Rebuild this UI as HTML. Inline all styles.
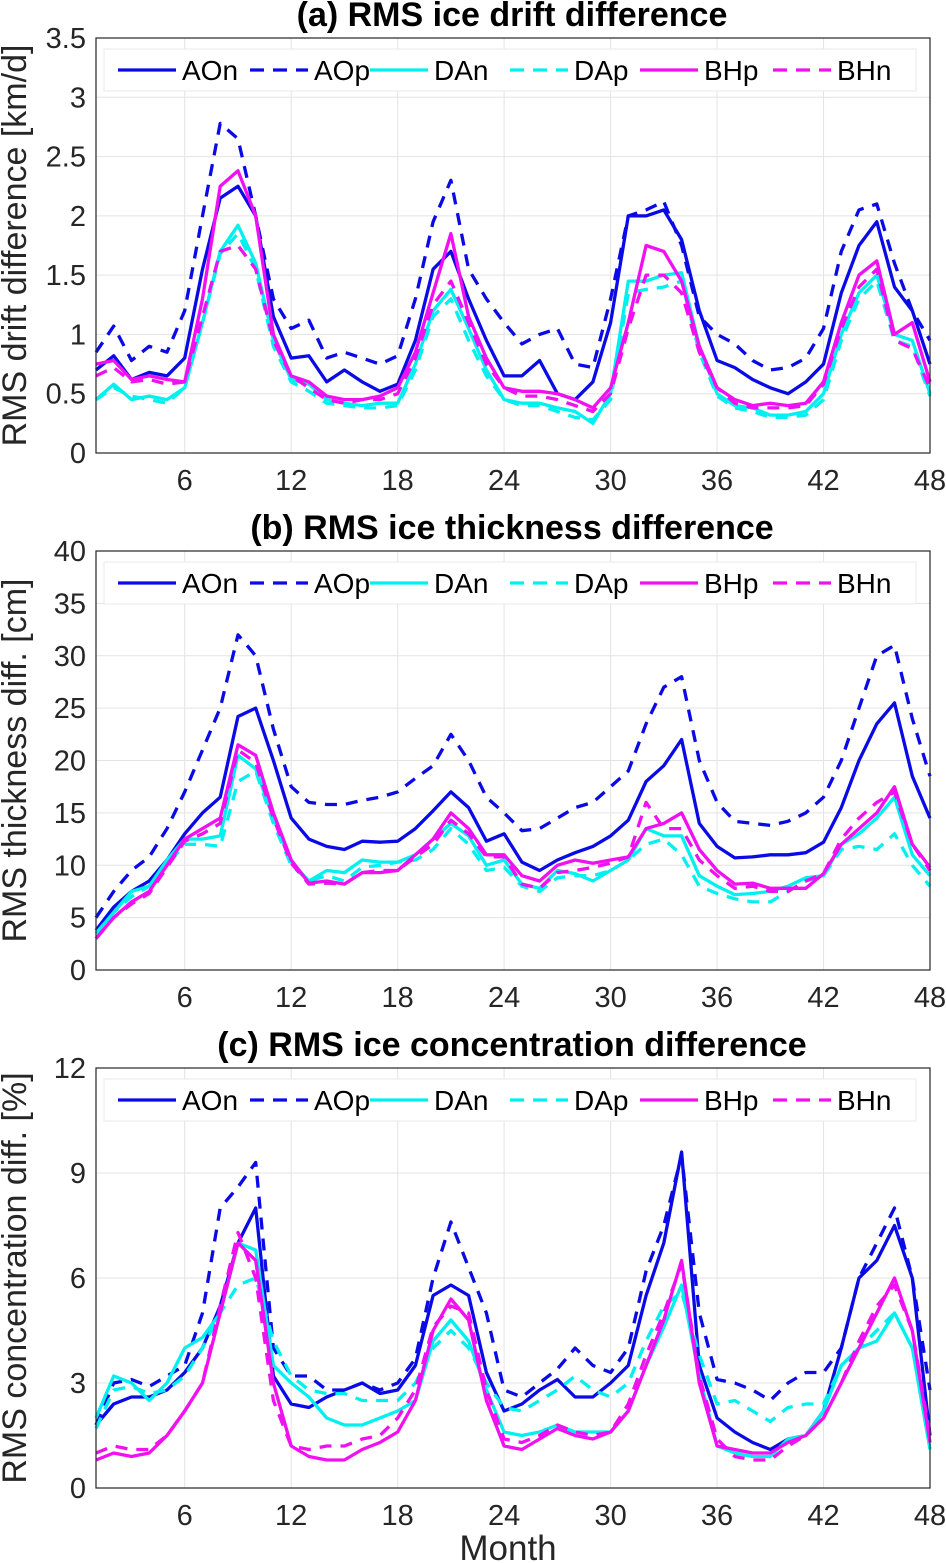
<!DOCTYPE html>
<html><head><meta charset="utf-8"><style>
html,body{margin:0;padding:0;background:#fff}
svg{display:block;font-family:"Liberation Sans",sans-serif}
</style></head><body>
<svg id="chart" width="946" height="1563" viewBox="0 0 946 1563" xmlns="http://www.w3.org/2000/svg"></svg>
<script>
const months = Array.from({length:48},(_, i)=>i+1);
const seriesNames = ["AOn","AOp","DAn","DAp","BHp","BHn"];
const xTickLabels = [6,12,18,24,30,36,42,48];
const driftTicks = [0,0.5,1,1.5,2,2.5,3,3.5];
const thickTicks = [0,5,10,15,20,25,30,35,40];
const concTicks = [0,3,6,9,12];

const driftAOn=[0.7,0.82,0.62,0.68,0.65,0.8,1.55,2.15,2.25,2.0,1.15,0.8,0.82,0.6,0.7,0.6,0.52,0.58,0.95,1.55,1.7,1.3,0.95,0.65,0.65,0.78,0.5,0.45,0.6,1.1,2.0,2.0,2.05,1.8,1.2,0.78,0.72,0.62,0.55,0.5,0.6,0.75,1.35,1.75,1.95,1.4,1.2,0.75];
const driftAOp=[0.85,1.07,0.78,0.9,0.85,1.2,2.0,2.78,2.65,2.0,1.3,1.05,1.12,0.8,0.85,0.8,0.75,0.82,1.3,1.95,2.3,1.55,1.3,1.1,0.92,1.0,1.05,0.75,0.72,1.3,2.0,2.05,2.12,1.75,1.15,1.0,0.92,0.78,0.7,0.72,0.8,1.05,1.7,2.05,2.1,1.6,1.2,0.95];
const driftDAn=[0.45,0.58,0.45,0.48,0.45,0.55,1.1,1.7,1.92,1.6,0.95,0.62,0.58,0.45,0.42,0.4,0.42,0.42,0.75,1.2,1.38,1.05,0.7,0.45,0.42,0.42,0.38,0.35,0.25,0.5,1.45,1.45,1.5,1.52,0.9,0.5,0.4,0.38,0.32,0.32,0.35,0.5,1.0,1.35,1.5,1.0,0.95,0.5];
const driftDAp=[0.45,0.55,0.48,0.45,0.42,0.55,1.1,1.68,1.85,1.55,0.9,0.6,0.52,0.42,0.4,0.38,0.38,0.4,0.7,1.15,1.3,0.95,0.65,0.45,0.4,0.4,0.35,0.3,0.28,0.45,1.35,1.38,1.4,1.45,0.85,0.48,0.38,0.35,0.3,0.3,0.32,0.45,0.95,1.3,1.45,0.95,0.9,0.48];
const driftBHp=[0.75,0.78,0.62,0.65,0.62,0.6,1.3,2.25,2.38,2.0,1.0,0.65,0.6,0.48,0.45,0.45,0.48,0.55,0.85,1.35,1.85,1.15,0.8,0.55,0.52,0.52,0.5,0.45,0.38,0.55,1.1,1.75,1.7,1.45,0.9,0.55,0.45,0.4,0.42,0.4,0.42,0.6,1.1,1.5,1.62,1.0,1.1,0.6];
const driftBHn=[0.65,0.72,0.6,0.62,0.58,0.6,1.15,1.7,1.75,1.55,0.95,0.65,0.55,0.45,0.42,0.45,0.45,0.5,0.8,1.25,1.45,1.1,0.75,0.55,0.48,0.48,0.45,0.4,0.35,0.5,1.05,1.5,1.5,1.35,0.85,0.55,0.42,0.38,0.38,0.38,0.4,0.58,1.05,1.4,1.55,0.95,0.88,0.55];

const thickAOn=[3.8,6,7.5,8.5,10.5,13,15,16.5,24.2,25,20,14.5,12.5,11.8,11.5,12.3,12.2,12.3,13.5,15.2,17,15.5,12.3,13,10.3,9.5,10.5,11.2,11.8,12.8,14.3,18,19.5,22,14,11.8,10.7,10.8,11,11,11.2,12.2,15.5,20,23.5,25.5,18.5,14.5];
const thickAOp=[5,7.5,9.5,10.8,13.5,17,21,25,32,30,23,17.5,16,15.8,15.8,16.2,16.5,17,18.3,19.5,22.5,20,16.5,15,13.3,13.5,14.5,15.5,16,17.5,19,23.5,27,28,20,16,14.2,14,13.8,14.2,15,16.5,20,25,30,31,24,18.5];
const thickDAn=[3.5,5.5,7.5,8,10.5,12.5,12.5,12.8,20.5,19.2,14.5,10.3,8.5,9.5,9.3,10.5,10.3,10.3,11,12.5,14,12.8,10,10.5,8.2,7.8,9.5,9.2,8.5,9.5,10.5,13.5,12.8,12.8,9,8,7.2,7.3,7.5,8,8.8,9,12,13,14.5,16.5,11,9];
const thickDAp=[3.5,5.5,7,8,10,12,12,11.8,18,19,14,10,8.5,9,8.5,9.8,10,10.3,10.5,11.5,13.5,12,9.5,9.8,8,7.5,8.8,9,9,9.5,10.5,12,12.5,11,8,7.3,6.8,6.5,6.5,7.5,8.5,9,11.5,11.8,11.5,13,10,8];
const thickBHp=[3,5,6.5,7.5,10,12.5,13.5,14.5,21.5,20.5,15,10.5,8.3,8.5,8.2,9.3,9.3,9.5,11,12.5,15,13.5,11,11,9,8.5,10,10.5,10.2,10.5,10.8,13.5,14,15,11.5,9.5,8.2,8.3,7.8,7.8,7.8,9.2,12,13.5,15,17.5,12,9.8];
const thickBHn=[3,5,6.3,7.3,9.8,12.3,13,14,21,19.8,14.5,10.2,8.2,8.3,8.2,9.3,9.5,9.5,10.8,12,14.3,13,10.8,10.8,8.2,7.8,9.3,9.5,9.8,10.2,10.8,16,13.5,13.5,10.5,9,7.8,8,7.5,7.5,8.5,9.2,12.5,14.5,16,17,12,9.5];

const concAOn=[1.8,2.4,2.6,2.6,2.8,3.3,4,5.2,7,8,3.2,2.4,2.3,2.6,2.8,3,2.7,2.8,3.5,5.5,5.8,5.5,3.3,2.2,2.4,2.8,3.1,2.6,2.6,3,3.5,5.5,7,9.6,3.5,2,1.6,1.3,1.1,1.4,1.5,2.2,4,6,6.5,7.5,6,1.5];
const concAOp=[1.8,3,3.1,2.9,3.2,3.5,5,8,8.6,9.3,4,3.2,3.2,2.8,2.8,3,2.8,3,3.7,6,7.6,6.3,5,2.8,2.6,3,3.4,4,3.5,3.3,4,6.2,7.5,9.5,5,3.1,3,2.8,2.5,3,3.3,3.3,4,6,7,8,6,2.8];
const concDAn=[2,3.2,3,2.5,3,4,4.3,5,7,6.8,3.5,3,2.6,2,1.8,1.8,2,2.2,2.5,4.2,4.8,4.2,2.8,1.6,1.5,1.6,1.8,1.6,1.6,1.6,2.2,3.5,4.6,5.8,3.2,1.2,1,0.9,0.9,1.4,1.5,2.2,3.5,4,4.2,5,4,1.1];
const concDAp=[1.7,2.8,2.9,2.7,2.8,3.2,4,5,5.8,6,4.2,3.2,2.8,2.7,2.7,2.5,2.5,2.5,3,4,4.5,4,3,2.3,2.2,2.5,2.8,3.2,2.8,2.6,3,4.2,5.2,5.6,3.8,2.4,2.5,2.2,1.9,2.3,2.4,2.4,3.5,4,4.5,5,4,1.5];
const concBHp=[0.8,1,0.9,1,1.5,2.2,3,5,7,6.5,3,1.2,0.9,0.8,0.8,1.1,1.3,1.6,2.5,4.5,5.4,4.8,2.5,1.2,1.1,1.4,1.7,1.5,1.4,1.6,2.2,3.5,4.8,6.5,3,1.2,1.1,1,1,1.3,1.5,2,3,4,5,6,4.5,1.3];
const concBHn=[1,1.2,1.1,1.1,1.5,2.2,3,5.2,7.3,6,2.5,1.2,1.1,1.2,1.2,1.4,1.5,2,2.8,4.6,5.2,5,2.8,1.4,1.3,1.5,1.8,1.6,1.5,1.6,2.4,3.8,5,6.4,3.2,1.4,0.9,0.8,0.8,1.2,1.5,2,3,4.2,5.2,5.8,4.5,1.5];

const NS="http://www.w3.org/2000/svg";
const svg=document.getElementById('chart');
function mk(tag,attrs,parent){const e=document.createElementNS(NS,tag);for(const k in attrs)e.setAttribute(k,attrs[k]);(parent||svg).appendChild(e);return e;}
const styles=[{c:"#0a0ae6",d:null},{c:"#0a0ae6",d:"12 9"},{c:"#00f0f0",d:null},{c:"#00f0f0",d:"12 9"},{c:"#f010f0",d:null},{c:"#f010f0",d:"12 9"}];
const L=96,R=930;
function xs(m){return L+(m-1)*(R-L)/47;}

function panel(id,top,bot,ymax,ticks,title,ytitle,data,legTop){
  const g=mk('g',{});
  
  
  const ys=v=>bot-(v/ymax)*(bot-top);
  mk('rect',{x:L,y:top,width:R-L,height:bot-top,fill:'#fff'},g);
  xTickLabels.forEach(t=>{mk('line',{x1:xs(t),x2:xs(t),y1:top,y2:bot,stroke:'#e3e3e3','stroke-width':1},g);
    const tx=mk('text',{x:xs(t),y:bot+37,'font-size':29,'text-anchor':'middle',fill:'#262626'},g);tx.textContent=t;
    });
  ticks.forEach(t=>{mk('line',{x1:L,x2:R,y1:ys(t),y2:ys(t),stroke:'#e3e3e3','stroke-width':1},g);
    const tx=mk('text',{x:L-10,y:ys(t)+10,'font-size':29,'text-anchor':'end',fill:'#262626'},g);tx.textContent=t;
    });
  data.forEach((arr,si)=>{
    const pts=arr.map((v,i)=>xs(months[i]).toFixed(1)+','+ys(v).toFixed(1)).join(' ');
    const p=mk('polyline',{points:pts,fill:'none',stroke:styles[si].c,'stroke-width':3.3,'stroke-linejoin':'round'},g);
    if(styles[si].d)p.setAttribute('stroke-dasharray',styles[si].d);
    
    
  });
  mk('rect',{x:L,y:top,width:R-L,height:bot-top,fill:'none',stroke:'#262626','stroke-width':1.2},g);
  const tt=mk('text',{x:512,y:top-12,'font-size':34,'font-weight':'bold','text-anchor':'middle',fill:'#000'},g);tt.textContent=title;
  
  const yc=(top+bot)/2;
  const yt=mk('text',{x:0,y:0,'font-size':34,'text-anchor':'middle',fill:'#262626',transform:`translate(26,${yc}) rotate(-90)`},g);yt.textContent=ytitle;
  
  const lg=mk('g',{},g);
  
  
  mk('rect',{x:104,y:legTop,width:812,height:42,fill:'#fff',stroke:'#e8e8e8'},lg);
  const lx=[118,250,370,510,640,773];
  seriesNames.forEach((n,i)=>{
    const ln=mk('line',{x1:lx[i],x2:lx[i]+58,y1:legTop+21,y2:legTop+21,stroke:styles[i].c,'stroke-width':3.3},lg);
    if(styles[i].d)ln.setAttribute('stroke-dasharray','14 9');
    const t=mk('text',{x:lx[i]+64,y:legTop+31,'font-size':28,fill:'#000'},lg);t.textContent=n;
    
  });
}
panel('drift',38,453,3.5,driftTicks,'(a) RMS ice drift difference','RMS drift difference [km/d]',[driftAOn,driftAOp,driftDAn,driftDAp,driftBHp,driftBHn],49);
panel('thickness',551,970,40,thickTicks,'(b) RMS ice thickness difference','RMS thickness diff. [cm]',[thickAOn,thickAOp,thickDAn,thickDAp,thickBHp,thickBHn],562);
panel('concentration',1068,1488,12,concTicks,'(c) RMS ice concentration difference','RMS concentration diff. [%]',[concAOn,concAOp,concDAn,concDAp,concBHp,concBHn],1079);
const xt=mk('text',{x:508,y:1560,'font-size':35,'text-anchor':'middle',fill:'#262626'});xt.textContent='Month';


</script>
</body></html>
